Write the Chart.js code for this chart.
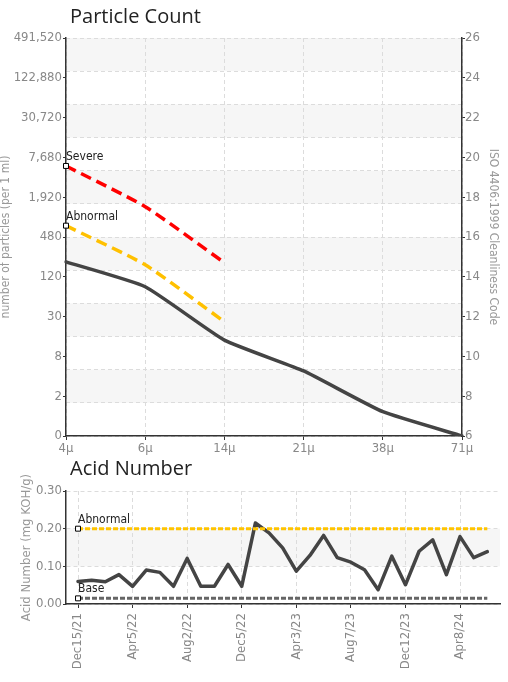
<!DOCTYPE html>
<html>
<head>
<meta charset="utf-8">
<script src="https://cdn.jsdelivr.net/npm/chart.js@4"></script>
<style>
  body { margin: 0; background: #fff; }
  #wrap { position: relative; width: 508px; height: 682px; overflow: hidden; }
  .ttl { position: absolute; left: 70px; font-family: 'Open Sans', sans-serif; font-size: 20px; line-height: 1; color: #222; z-index: 2; }
  #countChart { position: absolute; left: 0; top: 0; }
  #acidChart { position: absolute; left: 0; top: 455px; }
</style>
</head>
<body>
<div id="wrap">
  <div class="ttl" style="top:6px">Particle Count</div>
  <canvas id="countChart" width="508" height="455"></canvas>
  <div class="ttl" style="top:458px">Acid Number</div>
  <canvas id="acidChart" width="508" height="227"></canvas>
</div>
<script>
// particle count, values as ISO 4406 codes
const sizes = ["4μ", "6μ", "14μ", "21μ", "38μ", "71μ"];
const countCodes = [14.75, 13.5, 10.82, 9.27, 7.22, 6.0];
const severeCodes = [19.57, 17.52, 14.71];
const abnormalCodes = [16.57, 14.6, 11.74];
const countTickLabels = ["0", "2", "8", "30", "120", "480", "1,920", "7,680", "30,720", "122,880", "491,520"];

// acid number
const acidDates = ["Dec15/21", "Apr5/22", "Aug2/22", "Dec5/22", "Apr3/23", "Aug7/23", "Dec12/23", "Apr8/24"];
const acidValues = [0.060, 0.063, 0.059, 0.078, 0.047, 0.090, 0.084, 0.047, 0.121, 0.047,
                    0.047, 0.105, 0.047, 0.215, 0.189, 0.149, 0.087, 0.129, 0.182, 0.123,
                    0.111, 0.091, 0.038, 0.127, 0.051, 0.140, 0.170, 0.078, 0.179, 0.123, 0.139];
const acidAbnormal = 0.20;
const acidBase = 0.015;

const tickFont = { family: "'DejaVu Sans Condensed', 'Liberation Sans Narrow', sans-serif", size: 13 };
const titleFont = { family: "'DejaVu Sans Condensed', 'Liberation Sans Narrow', sans-serif", size: 12, lineHeight: 1 };
const tickGray = "#888";
const axisCol = "#333";

// shaded bands behind the grid
const bandPlugin = {
  id: "bands",
  beforeDraw(chart, args, opts) {
    const s = chart.scales[opts.axis];
    const a = chart.chartArea;
    const ctx = chart.ctx;
    ctx.save();
    ctx.fillStyle = opts.color;
    opts.ranges.forEach(r => {
      const y1 = s.getPixelForValue(r[1]);
      const y2 = s.getPixelForValue(r[0]);
      ctx.fillRect(a.left, y1, a.right - a.left, y2 - y1);
    });
    ctx.restore();
  }
};

// "Severe" / "Abnormal" / "Base" text next to the first point
const tagPlugin = {
  id: "tags",
  afterDatasetsDraw(chart) {
    const ctx = chart.ctx;
    chart.data.datasets.forEach((ds, i) => {
      if (!ds.tag) return;
      const pt = chart.getDatasetMeta(i).data[0];
      ctx.save();
      ctx.font = "12px 'DejaVu Sans Condensed', 'Liberation Sans Narrow', sans-serif";
      ctx.fillStyle = "#222";
      ctx.textBaseline = "bottom";
      ctx.textAlign = "left";
      ctx.fillText(ds.label, pt.x, pt.y - 3);
      ctx.restore();
    });
  }
};

const marker = {
  pointStyle: "rect",
  pointBackgroundColor: "#fff",
  pointBorderColor: "#000",
  pointBorderWidth: 1,
  pointHoverRadius: 0
};

new Chart(document.getElementById("countChart"), {
  type: "line",
  data: {
    labels: sizes,
    datasets: [
      {
        label: "Severe", tag: true, data: severeCodes,
        borderColor: "#ff0000", borderWidth: 3.5, borderDash: [11, 6], tension: 0.2,
        pointRadius: [3.5, 0, 0], ...marker
      },
      {
        label: "Abnormal", tag: true, data: abnormalCodes,
        borderColor: "#ffc000", borderWidth: 3.5, borderDash: [11, 6], tension: 0.2,
        pointRadius: [3.5, 0, 0], ...marker
      },
      {
        label: "Count", data: countCodes,
        borderColor: "#444", borderWidth: 3.5, tension: 0.15, pointRadius: 0,
        borderJoinStyle: "round", borderCapStyle: "round"
      }
    ]
  },
  options: {
    responsive: false,
    animation: false,
    layout: { padding: { top: 38, left: 0, right: 0, bottom: 0 } },
    plugins: {
      legend: { display: false },
      tooltip: { enabled: false },
      bands: { axis: "yg", color: "#f6f6f6", ranges: [[11, 12], [9, 10], [7, 8], [5, 6], [3, 4], [1, 2]] }
    },
    scales: {
      x: {
        type: "category", offset: false,
        grid: { color: "#dcdcdc", tickColor: axisCol, tickLength: 4 },
        border: { color: axisCol, width: 1.5, dash: [4, 3] },
        ticks: { color: tickGray, font: tickFont, padding: 1, maxRotation: 0 },
        afterFit: s => { s.height = 19; }
      },
      y: {
        position: "left", min: 6, max: 26,
        ticks: { stepSize: 2, color: tickGray, font: tickFont, padding: 1, callback: (v, i) => countTickLabels[i] },
        grid: { drawOnChartArea: false, tickLength: 3, tickColor: axisCol },
        border: { color: axisCol, width: 1.5 },
        title: { display: true, text: "number of particles (per 1 ml)", color: "#999", font: titleFont, padding: 0 },
        afterFit: s => { s.width = 66; }
      },
      y2: {
        position: "right", min: 6, max: 26,
        ticks: { stepSize: 2, color: tickGray, font: tickFont, padding: 0 },
        grid: { drawOnChartArea: false, tickLength: 3, tickColor: axisCol },
        border: { color: axisCol, width: 1.5 },
        title: { display: true, text: "ISO 4406:1999 Cleanliness Code", color: "#999", font: titleFont, padding: { top: 9, bottom: 0 } },
        afterFit: s => { s.width = 46; }
      },
      yg: {
        position: "left", min: 0, max: 12,
        ticks: { display: false, stepSize: 1 },
        grid: { color: "#dcdcdc", drawTicks: false },
        border: { display: false, dash: [4, 3] },
        afterFit: s => { s.width = 0; }
      }
    }
  },
  plugins: [bandPlugin, tagPlugin]
});

const acidPoints = acidValues.map((v, i) => ({ x: i, y: v }));
const lastIdx = acidValues.length - 1;

new Chart(document.getElementById("acidChart"), {
  type: "line",
  data: {
    datasets: [
      {
        label: "Abnormal", tag: true, data: [{ x: 0, y: acidAbnormal }, { x: lastIdx, y: acidAbnormal }],
        borderColor: "#ffc400", borderWidth: 3, borderDash: [5, 2],
        pointRadius: [3.5, 0], ...marker
      },
      {
        label: "Base", tag: true, data: [{ x: 0, y: acidBase }, { x: lastIdx, y: acidBase }],
        borderColor: "#666", borderWidth: 3, borderDash: [5, 2],
        pointRadius: [3.5, 0], ...marker
      },
      {
        label: "Acid Number", data: acidPoints,
        borderColor: "#444", borderWidth: 3.5, tension: 0, pointRadius: 0,
        borderJoinStyle: "round", borderCapStyle: "round"
      }
    ]
  },
  options: {
    responsive: false,
    animation: false,
    layout: { padding: { top: 36, left: 0, right: 8, bottom: 0 } },
    plugins: {
      legend: { display: false },
      tooltip: { enabled: false },
      bands: { axis: "y", color: "#f6f6f6", ranges: [[0.1, 0.2]] }
    },
    scales: {
      x: {
        type: "linear", min: -0.88, max: 30.93,
        afterBuildTicks: s => { s.ticks = acidDates.map((d, i) => ({ value: i * 4 })); },
        ticks: { color: tickGray, font: tickFont, padding: 5, minRotation: 90, maxRotation: 90, autoSkip: false,
                 callback: v => acidDates[v / 4] },
        grid: { color: "#dcdcdc", tickColor: axisCol, tickLength: 4 },
        border: { color: axisCol, width: 1.5, dash: [4, 3] },
        afterFit: s => { s.height = 78; }
      },
      y: {
        position: "left", min: 0, max: 0.3,
        ticks: { stepSize: 0.1, color: tickGray, font: tickFont, padding: 1, callback: v => v.toFixed(2) },
        grid: { color: "#dcdcdc", tickColor: axisCol, tickLength: 3 },
        border: { color: axisCol, width: 1.5, dash: [4, 3] },
        title: { display: true, text: "Acid Number (mg KOH/g)", color: "#999", font: { family: titleFont.family, size: 13, lineHeight: 1 }, padding: { top: 20, bottom: 0 } },
        afterFit: s => { s.width = 66; }
      }
    }
  },
  plugins: [bandPlugin, tagPlugin]
});
</script>
</body>
</html>
